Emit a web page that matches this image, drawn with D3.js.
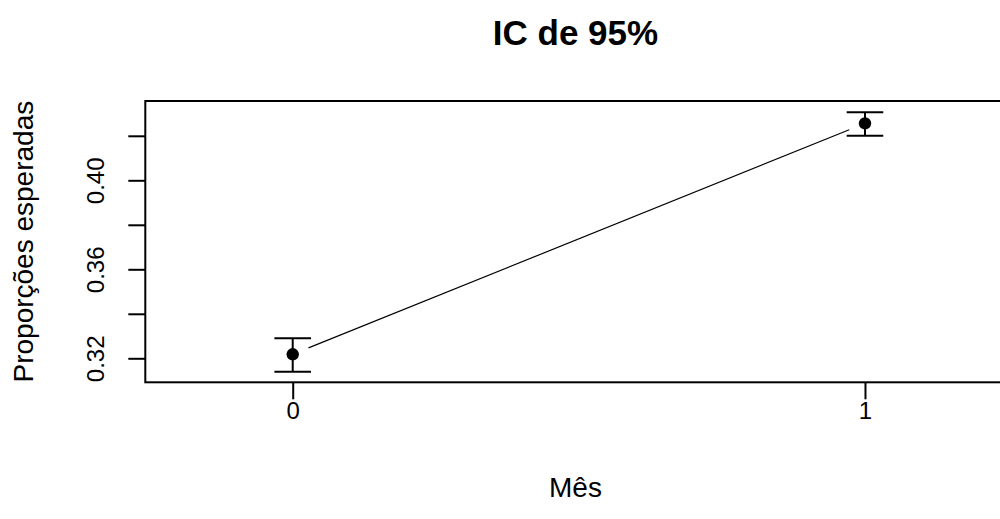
<!DOCTYPE html>
<html>
<head>
<meta charset="utf-8">
<script src="https://cdn.jsdelivr.net/npm/d3@7"></script>
<style>
  html, body { margin: 0; padding: 0; background: #fff; }
  svg { display: block; }
  text { font-family: "Liberation Sans", Arial, sans-serif; fill: #000; }
</style>
</head>
<body>
<svg id="chart" width="1000" height="519"></svg>
<script>
// ---- data ----
const categories = [0, 1];
const means = [0.3218, 0.4256];
const lower = [0.3140, 0.4200];
const upper = [0.3290, 0.4306];
const yTicks = [0.32, 0.34, 0.36, 0.38, 0.40, 0.42];
const yTickLabels = ["0.32", "", "0.36", "", "0.40", ""];
const xTickLabels = ["0", "1"];
const title = "IC de 95%";
const xLabel = "Mês";
const yLabel = "Proporções esperadas";

// ---- layout ----
const box = { left: 145.3, top: 101, bottom: 382.3 };
const svg = d3.select("#chart");

const x = d3.scaleLinear().domain([-0.2576, 1.2576]).range([box.left, 1012.4]);
const y = d3.scaleLinear().domain([0.30921, 0.43564]).range([box.bottom, box.top]);

// plot box
svg.append("rect")
  .attr("x", box.left).attr("y", box.top)
  .attr("width", x.range()[1] - box.left).attr("height", box.bottom - box.top)
  .attr("fill", "none").attr("stroke", "#000").attr("stroke-width", 2);

// y axis
const yAxis = d3.axisLeft(y).tickValues(yTicks)
  .tickSize(17).tickFormat((d, i) => yTickLabels[i]);
const gy = svg.append("g").attr("transform", `translate(${box.left},0)`).call(yAxis);
gy.select(".domain").remove();
gy.selectAll(".tick line").attr("stroke", "#000").attr("stroke-width", 2);
gy.selectAll(".tick text")
  .attr("x", 0).attr("y", 0).attr("dy", 0)
  .attr("text-anchor", "middle")
  .attr("transform", "translate(-41,0) rotate(-90)")
  .style("font-size", "24px");

// x axis
const xAxis = d3.axisBottom(x).tickValues(categories)
  .tickSize(17).tickFormat((d, i) => xTickLabels[i]);
const gx = svg.append("g").attr("transform", `translate(0,${box.bottom})`).call(xAxis);
gx.select(".domain").remove();
gx.selectAll(".tick line").attr("stroke", "#000").attr("stroke-width", 2);
gx.selectAll(".tick text").attr("y", 37).attr("dy", 0)
  .style("font-size", "24px");

// connecting line segments with gaps around points
const gap = 17;
for (let i = 0; i < categories.length - 1; i++) {
  const x0 = x(categories[i]), y0 = y(means[i]);
  const x1 = x(categories[i + 1]), y1 = y(means[i + 1]);
  const len = Math.hypot(x1 - x0, y1 - y0);
  const ux = (x1 - x0) / len, uy = (y1 - y0) / len;
  svg.append("line")
    .attr("x1", x0 + ux * gap).attr("y1", y0 + uy * gap)
    .attr("x2", x1 - ux * gap).attr("y2", y1 - uy * gap)
    .attr("stroke", "#000").attr("stroke-width", 1.2);
}

// error bars
const cap = 18.3;
const eb = svg.append("g");
categories.forEach((c, i) => {
  const cx = x(c);
  eb.append("line").attr("x1", cx).attr("x2", cx)
    .attr("y1", y(lower[i])).attr("y2", y(upper[i]))
    .attr("stroke", "#000").attr("stroke-width", 2);
  [lower[i], upper[i]].forEach(v => {
    eb.append("line").attr("x1", cx - cap).attr("x2", cx + cap)
      .attr("y1", y(v)).attr("y2", y(v))
      .attr("stroke", "#000").attr("stroke-width", 2);
  });
});

// points
svg.append("g").selectAll("circle").data(categories).join("circle")
  .attr("cx", d => x(d)).attr("cy", (d, i) => y(means[i]))
  .attr("r", 6.2).attr("fill", "#000");

// title
svg.append("text").attr("x", 575.5).attr("y", 45)
  .attr("text-anchor", "middle")
  .style("font-size", "35px").style("font-weight", "bold")
  .text(title);

// x label
svg.append("text").attr("x", 575.5).attr("y", 497)
  .attr("text-anchor", "middle")
  .style("font-size", "28px")
  .text(xLabel);

// y label
svg.append("text")
  .attr("transform", `translate(33,${(box.top + box.bottom) / 2}) rotate(-90)`)
  .attr("text-anchor", "middle")
  .style("font-size", "28px")
  .text(yLabel);
</script>
</body>
</html>
